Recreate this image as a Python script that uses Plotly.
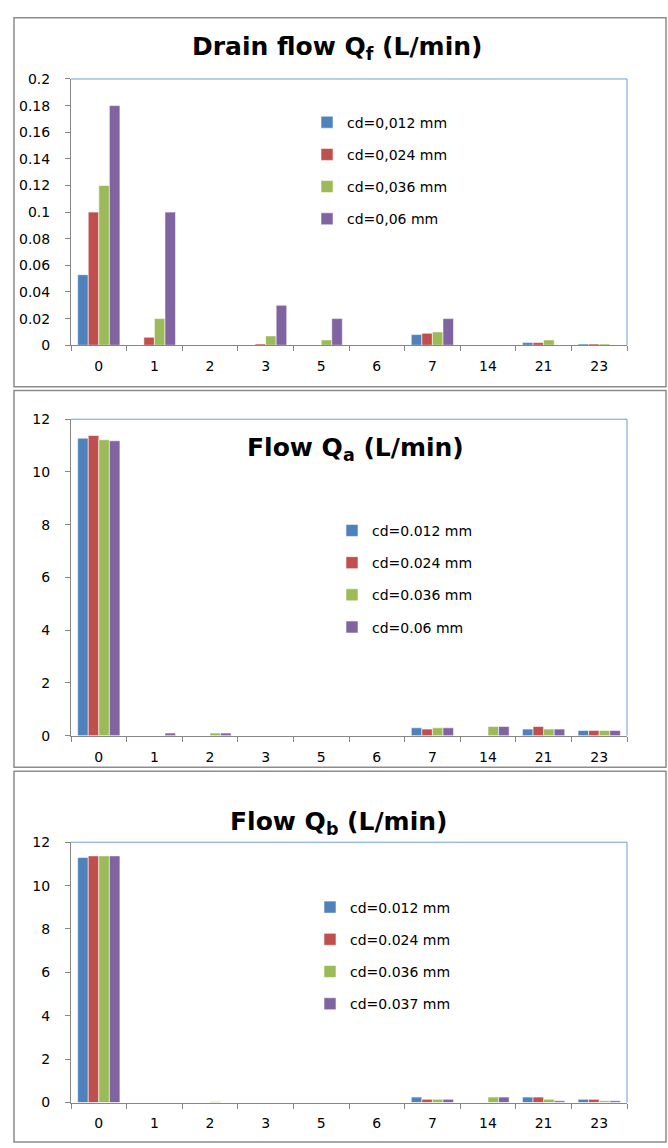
import plotly.graph_objects as go

categories = ["0", "1", "2", "3", "5", "6", "7", "14", "21", "23"]

# Panel 1: Drain flow Qf (L/min)
qf_names = ["cd=0,012 mm", "cd=0,024 mm", "cd=0,036 mm", "cd=0,06 mm"]
qf_012 = [0.053, 0.0, 0.0, 0.0, 0.0, 0.0, 0.008, 0.0, 0.002, 0.001]
qf_024 = [0.100, 0.006, 0.0, 0.001, 0.0, 0.0, 0.009, 0.0, 0.002, 0.001]
qf_036 = [0.120, 0.020, 0.0, 0.007, 0.004, 0.0, 0.010, 0.0, 0.004, 0.001]
qf_06 = [0.180, 0.100, 0.0, 0.030, 0.020, 0.0, 0.020, 0.0, 0.0, 0.0]

# Panel 2: Flow Qa (L/min)
qa_names = ["cd=0.012 mm", "cd=0.024 mm", "cd=0.036 mm", "cd=0.06 mm"]
qa_012 = [11.28, 0.0, 0.0, 0.0, 0.0, 0.0, 0.30, 0.0, 0.25, 0.20]
qa_024 = [11.38, 0.0, 0.0, 0.0, 0.0, 0.0, 0.25, 0.0, 0.35, 0.20]
qa_036 = [11.22, 0.0, 0.10, 0.0, 0.0, 0.0, 0.30, 0.35, 0.25, 0.20]
qa_06 = [11.18, 0.10, 0.10, 0.0, 0.0, 0.0, 0.30, 0.35, 0.25, 0.20]

# Panel 3: Flow Qb (L/min)
qb_names = ["cd=0.012 mm", "cd=0.024 mm", "cd=0.036 mm", "cd=0.037 mm"]
qb_012 = [11.30, 0.0, 0.0, 0.0, 0.0, 0.0, 0.25, 0.0, 0.25, 0.15]
qb_024 = [11.37, 0.0, 0.0, 0.0, 0.0, 0.0, 0.15, 0.0, 0.25, 0.15]
qb_036 = [11.37, 0.0, 0.05, 0.0, 0.0, 0.0, 0.15, 0.25, 0.15, 0.08]
qb_037 = [11.37, 0.0, 0.0, 0.0, 0.0, 0.0, 0.15, 0.25, 0.08, 0.08]

colors = ["#4F81BD", "#C0504D", "#9BBB59", "#8064A2"]

W, H = 668, 1148
FONT = "DejaVu Sans"


def py(pix):
    return 1 - pix / H


def px(pix):
    return pix / W


fig = go.Figure()

panels = [
    (qf_names, [qf_012, qf_024, qf_036, qf_06], "x", "y", "legend"),
    (qa_names, [qa_012, qa_024, qa_036, qa_06], "x2", "y2", "legend2"),
    (qb_names, [qb_012, qb_024, qb_036, qb_037], "x3", "y3", "legend3"),
]

for pi, (names, series, xa, ya, lg) in enumerate(panels):
    for i, (nm, vals) in enumerate(zip(names, series)):
        fig.add_trace(go.Bar(
            x=categories, y=vals, name=nm,
            marker=dict(color=colors[i], line=dict(color="rgba(255,255,255,0.7)", width=0.8)),
            xaxis=xa, yaxis=ya, legend=lg, legendgroup=f"p{pi}s{i}",
        ))

axis_common = dict(
    showgrid=False, zeroline=False, showline=True, linecolor="#868686", linewidth=1,
    ticks="outside", ticklen=5, tickcolor="#868686",
    tickfont=dict(family=FONT, size=14, color="#000000"),
)

x_dom = [px(71), px(627)]
panel_geo = [(72, 342), (417, 738), (846, 1110)]

fig.update_layout(
    width=W, height=H, margin=dict(l=0, r=0, t=0, b=0),
    paper_bgcolor="white", plot_bgcolor="white",
    barmode="group", bargap=0.24, bargroupgap=0.0,
    font=dict(family=FONT, color="#000000"),
    xaxis=dict(domain=x_dom, anchor="y", type="category", tickson="boundaries",
               ticklabelstandoff=8, **axis_common),
    yaxis=dict(domain=[py(342), py(72)], anchor="x", range=[0, 0.2], dtick=0.02,
               tickformat="~g", ticklabelstandoff=12, **axis_common),
    xaxis2=dict(domain=x_dom, anchor="y2", type="category", tickson="boundaries",
                ticklabelstandoff=8, **axis_common),
    yaxis2=dict(domain=[py(738), py(417)], anchor="x2", range=[0, 12], dtick=2,
                ticklabelstandoff=12, **axis_common),
    xaxis3=dict(domain=x_dom, anchor="y3", type="category", tickson="boundaries",
                ticklabelstandoff=8, **axis_common),
    yaxis3=dict(domain=[py(1110), py(846)], anchor="x3", range=[0, 12], dtick=2,
                ticklabelstandoff=12, **axis_common),
)

legend_common = dict(
    bgcolor="rgba(0,0,0,0)", font=dict(family=FONT, size=14, color="#000000"),
    itemwidth=30, xanchor="left", yanchor="top",
)
fig.update_layout(
    legend=dict(x=px(307), y=py(100), tracegroupgap=11, **legend_common),
    legend2=dict(x=px(332), y=py(514), tracegroupgap=11, **legend_common),
    legend3=dict(x=px(310), y=py(896), tracegroupgap=11, **legend_common),
)

# titles
titles = [
    ("Drain flow Q<sub>f</sub> (L/min)", 337, 41),
    ("Flow Q<sub>a</sub> (L/min)", 355, 447),
    ("Flow Q<sub>b</sub> (L/min)", 338, 827),
]
for txt, tx, ty in titles:
    fig.add_annotation(text=f"<b>{txt}</b>", x=px(tx), y=py(ty), xref="paper", yref="paper",
                       showarrow=False, xanchor="center", yanchor="middle",
                       font=dict(family=FONT, size=25, color="#000000"))

shapes = []
# outer frames
for (y0, y1) in [(10, 384), (388, 770), (774, 1150)]:
    shapes.append(dict(type="rect", xref="paper", yref="paper",
                       x0=px(14), x1=px(666), y0=py(y1), y1=py(y0),
                       line=dict(color="#8c8c8c", width=1.5), layer="below"))
# blue top/right plot borders
for (top, bot) in panel_geo:
    shapes.append(dict(type="line", xref="paper", yref="paper",
                       x0=x_dom[0], x1=x_dom[1], y0=py(top), y1=py(top),
                       line=dict(color="#6F9BD1", width=1)))
    shapes.append(dict(type="line", xref="paper", yref="paper",
                       x0=x_dom[1], x1=x_dom[1], y0=py(top), y1=py(bot),
                       line=dict(color="#6F9BD1", width=1)))
fig.update_layout(shapes=shapes)

fig.write_html(
    "out.html",
    config={"displayModeBar": False},
    post_script="document.body.style.margin='0';document.body.style.overflow='hidden';",
)
